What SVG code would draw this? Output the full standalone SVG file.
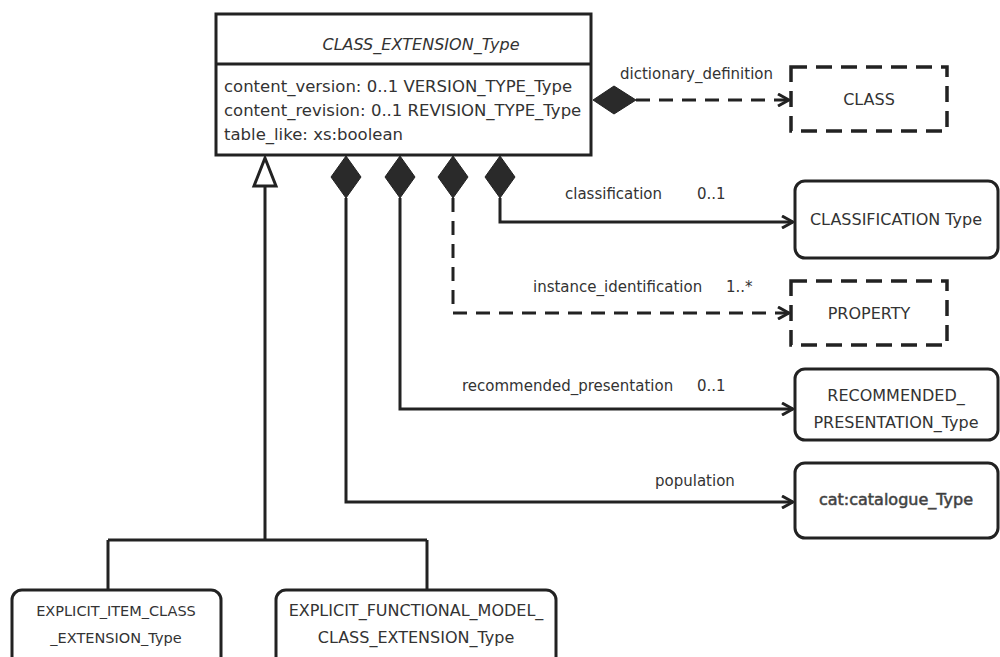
<svg xmlns="http://www.w3.org/2000/svg" width="1000" height="657" viewBox="0 0 1000 657">
<defs>
<style>
text{font-family:"DejaVu Sans","Liberation Sans",sans-serif;fill:#333;font-size:16px}
.lbl{font-size:15px}
.attr{font-size:16.5px}
.sm{font-size:14.5px}
.box{fill:#fff;stroke:#222;stroke-width:3}
.dbox{fill:#fff;stroke:#222;stroke-width:3.5;stroke-dasharray:16,9}
.ln{fill:none;stroke:#222;stroke-width:3}
.dl{fill:none;stroke:#222;stroke-width:3;stroke-dasharray:14,9}
.dia{fill:#2a2a2a;stroke:#222;stroke-width:1}
.mid{text-anchor:middle}
</style>
<marker id="open" markerWidth="14" markerHeight="14" refX="12" refY="7" orient="auto" markerUnits="userSpaceOnUse">
<path d="M1,1 L12,7 L1,13" fill="none" stroke="#222" stroke-width="3"/>
</marker>
</defs>
<rect width="1000" height="657" fill="#fff"/>

<g id="connectors">
<path class="dl" d="M636,100 H789" marker-end="url(#open)"/>
<path class="ln" d="M500,198 V222 H793" marker-end="url(#open)"/>
<path class="dl" d="M453,198 V313 H789" marker-end="url(#open)"/>
<path class="ln" d="M400,198 V409 H793" marker-end="url(#open)"/>
<path class="ln" d="M346,198 V502 H793" marker-end="url(#open)"/>
<path class="ln" d="M265,186 V540 M108,540 H427 M108,540 V590 M427,540 V590"/>
<polygon points="265,158 254,186 276,186" fill="#fff" stroke="#222" stroke-width="3"/>
<polygon class="dia" points="593,100 614,86 636,100 614,114"/>
<polygon class="dia" points="346,156 361,177 346,198 331,177"/>
<polygon class="dia" points="400,156 415,177 400,198 385,177"/>
<polygon class="dia" points="453,156 468,177 453,198 438,177"/>
<polygon class="dia" points="500,156 515,177 500,198 485,177"/>
<text class="lbl" x="620" y="79">dictionary_definition</text>
<text class="lbl" x="565" y="199">classification</text>
<text class="lbl" x="697" y="199">0..1</text>
<text class="lbl" x="533" y="292">instance_identification</text>
<text class="lbl" x="726" y="292">1..*</text>
<text class="lbl" x="462" y="391">recommended_presentation</text>
<text class="lbl" x="697" y="391">0..1</text>
<text class="lbl" x="655" y="486">population</text>
</g>

<g id="class_extension">
<rect class="box" x="216" y="14" width="375" height="141"/>
<line class="ln" x1="216" y1="64" x2="591" y2="64"/>
<text class="mid" x="421" y="50" font-style="italic">CLASS_EXTENSION_Type</text>
<text class="attr" x="224" y="92">content_version: 0..1 VERSION_TYPE_Type</text>
<text class="attr" x="224" y="116">content_revision: 0..1 REVISION_TYPE_Type</text>
<text class="attr" x="224" y="140">table_like: xs:boolean</text>
</g>

<g id="class">
<rect class="dbox" x="791" y="67" width="156" height="64"/>
<text class="mid" x="869" y="105">CLASS</text>
</g>

<g id="classification">
<rect class="box" x="795" y="181" width="203" height="77" rx="10"/>
<text class="mid" x="896" y="225">CLASSIFICATION Type</text>
</g>

<g id="property">
<rect class="dbox" x="791" y="281" width="156" height="64"/>
<text class="mid" x="869" y="319">PROPERTY</text>
</g>

<g id="recommended">
<rect class="box" x="795" y="369" width="203" height="71" rx="10"/>
<text class="mid" x="896" y="401">RECOMMENDED_</text>
<text class="mid" x="896" y="428">PRESENTATION_Type</text>
</g>

<g id="catalogue">
<rect class="box" x="795" y="463" width="203" height="75" rx="10"/>
<text class="mid" x="896" y="505" stroke="#555" stroke-width="0.6">cat:catalogue_Type</text>
</g>

<g id="explicit_item">
<rect class="box" x="12" y="590" width="209" height="80" rx="10"/>
<text class="mid sm" x="116" y="616">EXPLICIT_ITEM_CLASS</text>
<text class="mid sm" x="116" y="643">_EXTENSION_Type</text>
</g>

<g id="explicit_functional">
<rect class="box" x="276" y="590" width="280" height="80" rx="10"/>
<text class="mid" x="416" y="616">EXPLICIT_FUNCTIONAL_MODEL_</text>
<text class="mid" x="416" y="643">CLASS_EXTENSION_Type</text>
</g>
</svg>
